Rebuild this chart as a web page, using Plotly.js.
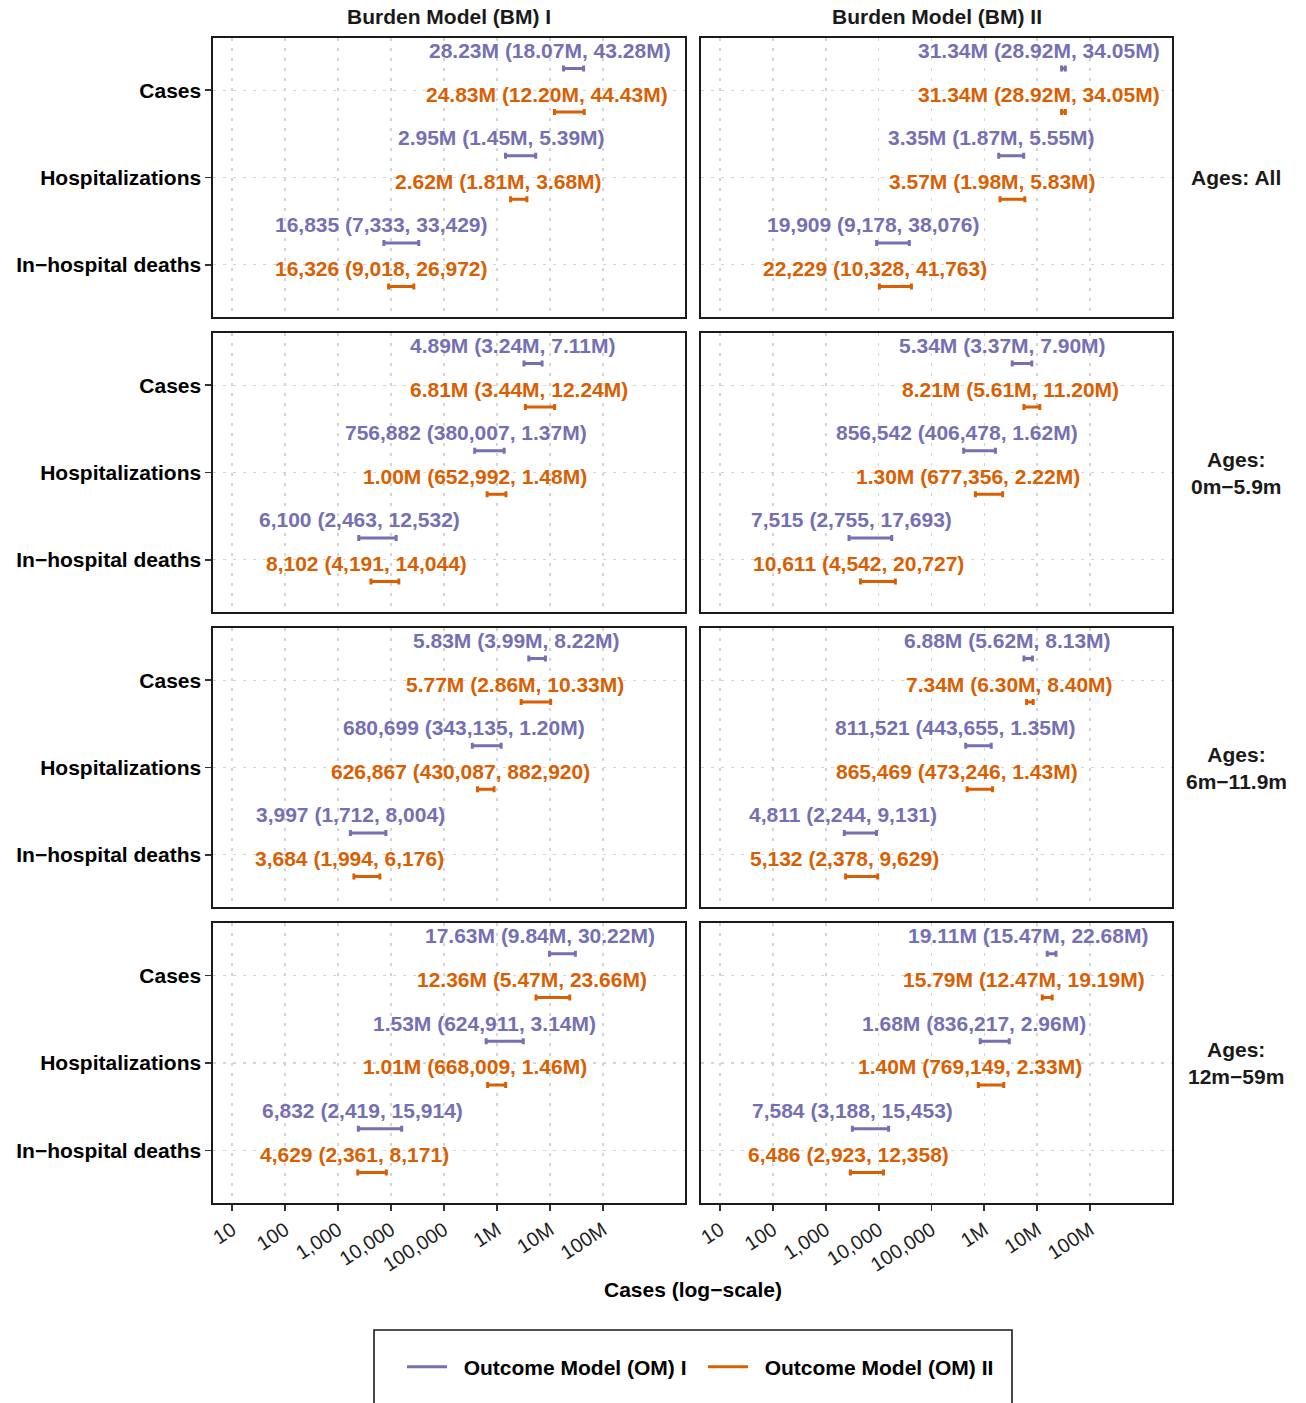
<!DOCTYPE html>
<html>
<head>
<meta charset="utf-8">
<script src="https://cdn.plot.ly/plotly-3.0.1.min.js"></script>
<style>html,body{margin:0;padding:0;background:#fff;}#chart{width:1306px;height:1403px;}</style>
</head>
<body>
<div id="chart"></div>
<script>
// ---- data ----
const outcomes = ['Cases', 'Hospitalizations', 'In\u2212hospital deaths'];
const burdenModels = ['Burden Model (BM) I', 'Burden Model (BM) II'];
const ageGroups = ['Ages: All', 'Ages:<br>0m\u22125.9m', 'Ages:<br>6m\u221211.9m', 'Ages:<br>12m\u221259m'];
const outcomeModels = ['Outcome Model (OM) I', 'Outcome Model (OM) II'];
const xTickVals = [1e1, 1e2, 1e3, 1e4, 1e5, 1e6, 1e7, 1e8];
const xTickText = ['10', '100', '1,000', '10,000', '100,000', '1M', '10M', '100M'];

// [age group][burden model][outcome: cases, hospitalizations, deaths]
const OM1_EST = [
  [[28.23e6, 2.95e6, 16835], [31.34e6, 3.35e6, 19909]],
  [[4.89e6, 756882, 6100], [5.34e6, 856542, 7515]],
  [[5.83e6, 680699, 3997], [6.88e6, 811521, 4811]],
  [[17.63e6, 1.53e6, 6832], [19.11e6, 1.68e6, 7584]]
];
const OM1_LO = [
  [[18.07e6, 1.45e6, 7333], [28.92e6, 1.87e6, 9178]],
  [[3.24e6, 380007, 2463], [3.37e6, 406478, 2755]],
  [[3.99e6, 343135, 1712], [5.62e6, 443655, 2244]],
  [[9.84e6, 624911, 2419], [15.47e6, 836217, 3188]]
];
const OM1_HI = [
  [[43.28e6, 5.39e6, 33429], [34.05e6, 5.55e6, 38076]],
  [[7.11e6, 1.37e6, 12532], [7.90e6, 1.62e6, 17693]],
  [[8.22e6, 1.20e6, 8004], [8.13e6, 1.35e6, 9131]],
  [[30.22e6, 3.14e6, 15914], [22.68e6, 2.96e6, 15453]]
];
const OM2_EST = [
  [[24.83e6, 2.62e6, 16326], [31.34e6, 3.57e6, 22229]],
  [[6.81e6, 1.00e6, 8102], [8.21e6, 1.30e6, 10611]],
  [[5.77e6, 626867, 3684], [7.34e6, 865469, 5132]],
  [[12.36e6, 1.01e6, 4629], [15.79e6, 1.40e6, 6486]]
];
const OM2_LO = [
  [[12.20e6, 1.81e6, 9018], [28.92e6, 1.98e6, 10328]],
  [[3.44e6, 652992, 4191], [5.61e6, 677356, 4542]],
  [[2.86e6, 430087, 1994], [6.30e6, 473246, 2378]],
  [[5.47e6, 668009, 2361], [12.47e6, 769149, 2923]]
];
const OM2_HI = [
  [[44.43e6, 3.68e6, 26972], [34.05e6, 5.83e6, 41763]],
  [[12.24e6, 1.48e6, 14044], [11.20e6, 2.22e6, 20727]],
  [[10.33e6, 882920, 6176], [8.40e6, 1.43e6, 9629]],
  [[23.66e6, 1.46e6, 8171], [19.19e6, 2.33e6, 12358]]
];

// ---- styling ----
const W = 1306, H = 1403;
const COLORS = ['#7570B3', '#D95F02'];
const FONT = 'Liberation Sans, Arial, sans-serif';
const colPx = [[213, 685], [701, 1172]];
const rowPx = [[38, 317], [333, 612], [628, 907], [923, 1203]];
const catY = [3, 2, 1];          // cases, hosp, deaths
const dodge = [0.25, -0.25];     // OM I above, OM II below

function fmt(v) {
  if (v >= 1e6) return (v / 1e6).toFixed(2) + 'M';
  return String(Math.round(v)).replace(/\B(?=(\d{3})+(?!\d))/g, ',');
}
const cv = document.createElement('canvas').getContext('2d');
cv.font = "bold 21px 'Liberation Sans'";
function textW(s) { return cv.measureText(s).width; }

const EST = [OM1_EST, OM2_EST], LO = [OM1_LO, OM2_LO], HI = [OM1_HI, OM2_HI];
const traces = [];
const annotations = [];
const layout = {
  width: W, height: H,
  margin: {l: 0, r: 0, t: 0, b: 0},
  paper_bgcolor: '#fff', plot_bgcolor: '#fff',
  showlegend: true,
  font: {family: FONT, color: '#000'},
  legend: {
    orientation: 'h', x: 402 / W, xanchor: 'left', y: 1 - 1367 / H, yanchor: 'middle',
    font: {family: FONT, size: 21, color: '#000'}, bgcolor: 'rgba(0,0,0,0)', borderwidth: 0,
    itemwidth: 40, tracegroupgap: 0, entrywidth: 246, entrywidthmode: 'pixels'
  },
  shapes: [{
    type: 'rect', xref: 'paper', yref: 'paper',
    x0: 374 / W, x1: 1012 / W, y0: 1 - 1330 / H, y1: -0.05,
    line: {color: '#1a1a1a', width: 1.6}, fillcolor: 'rgba(0,0,0,0)'
  }],
  annotations: annotations
};

for (let r = 0; r < 4; r++) {
  for (let c = 0; c < 2; c++) {
    const i = r * 2 + c + 1;
    const xn = 'xaxis' + (i > 1 ? i : ''), yn = 'yaxis' + (i > 1 ? i : '');
    const xr = 'x' + (i > 1 ? i : ''), yr = 'y' + (i > 1 ? i : '');
    layout[xn] = {
      type: 'log', range: [0.64, 9.55], domain: [colPx[c][0] / W, colPx[c][1] / W],
      anchor: yr, tickvals: xTickVals, ticktext: xTickText,
      showticklabels: r === 3, ticks: r === 3 ? 'outside' : '', ticklen: 6, tickwidth: 1.8, tickcolor: '#333',
      tickangle: -33, tickfont: {family: FONT, size: 20, color: '#1f1f1f'},
      showline: true, mirror: true, linecolor: '#1a1a1a', linewidth: 1.6,
      showgrid: true, gridcolor: '#d4d4d4', gridwidth: 1.6, griddash: '3px,7px',
      zeroline: false, fixedrange: true
    };
    layout[yn] = {
      range: [0.4, 3.6], domain: [1 - rowPx[r][1] / H, 1 - rowPx[r][0] / H],
      anchor: xr, tickvals: catY, ticktext: outcomes.map(o => '<b>' + o + '</b>'),
      showticklabels: c === 0, ticks: c === 0 ? 'outside' : '', ticklen: 6, tickwidth: 1.8, tickcolor: '#333',
      tickfont: {family: FONT, size: 21, color: '#000'},
      showline: true, mirror: true, linecolor: '#1a1a1a', linewidth: 1.6,
      showgrid: true, gridcolor: '#d4d4d4', gridwidth: 1.6, griddash: '3px,7px',
      zeroline: false, fixedrange: true
    };
    for (let m = 0; m < 2; m++) {
      const est = EST[m][r][c], lo = LO[m][r][c], hi = HI[m][r][c];
      const ys = catY.map(y => y + dodge[m]);
      traces.push({
        type: 'scatter', mode: 'markers', xaxis: xr, yaxis: yr, showlegend: false, hoverinfo: 'skip',
        x: est, y: ys,
        marker: {size: 1, color: 'rgba(0,0,0,0)'},
        error_x: {
          type: 'data', symmetric: false,
          array: est.map((v, k) => hi[k] - v), arrayminus: est.map((v, k) => v - lo[k]),
          color: COLORS[m], thickness: 3, width: 3
        }
      });
      for (let k = 0; k < 3; k++) {
        const label = fmt(est[k]) + ' (' + fmt(lo[k]) + ', ' + fmt(hi[k]) + ')';
        annotations.push({
          xref: xr, yref: yr, x: Math.log10(est[k]), y: ys[k],
          text: '<b>' + label + '</b>', showarrow: false,
          xanchor: 'center', yanchor: 'middle', xshift: -0.1 * textW(label), yshift: 18,
          font: {family: FONT, size: 21, color: COLORS[m]}
        });
      }
    }
  }
}
// facet strips
burdenModels.forEach((t, c) => annotations.push({
  xref: 'paper', yref: 'paper', x: (colPx[c][0] + colPx[c][1]) / 2 / W, y: 1 - 17 / H,
  text: '<b>' + t + '</b>', showarrow: false, xanchor: 'center', yanchor: 'middle',
  font: {family: FONT, size: 21, color: '#1a1a1a'}
}));
ageGroups.forEach((t, r) => annotations.push({
  xref: 'paper', yref: 'paper', x: 1236 / W, y: 1 - (rowPx[r][0] + rowPx[r][1]) / 2 / H,
  text: '<b>' + t + '</b>', showarrow: false, xanchor: 'center', yanchor: 'middle',
  font: {family: FONT, size: 21, color: '#1a1a1a'}
}));
annotations.push({
  xref: 'paper', yref: 'paper', x: 693 / W, y: 1 - 1289 / H,
  text: '<b>Cases (log\u2212scale)</b>', showarrow: false, xanchor: 'center', yanchor: 'middle',
  font: {family: FONT, size: 21, color: '#000'}
});
// legend entries
outcomeModels.forEach((n, m) => traces.push({
  type: 'scatter', mode: 'lines', x: [null], y: [null], xaxis: 'x', yaxis: 'y',
  name: '\u00a0\u00a0<b>' + n + '</b>', line: {color: COLORS[m], width: 3}, hoverinfo: 'skip'
}));

Plotly.newPlot('chart', traces, layout, {displayModeBar: false, staticPlot: true});
</script>
</body>
</html>
